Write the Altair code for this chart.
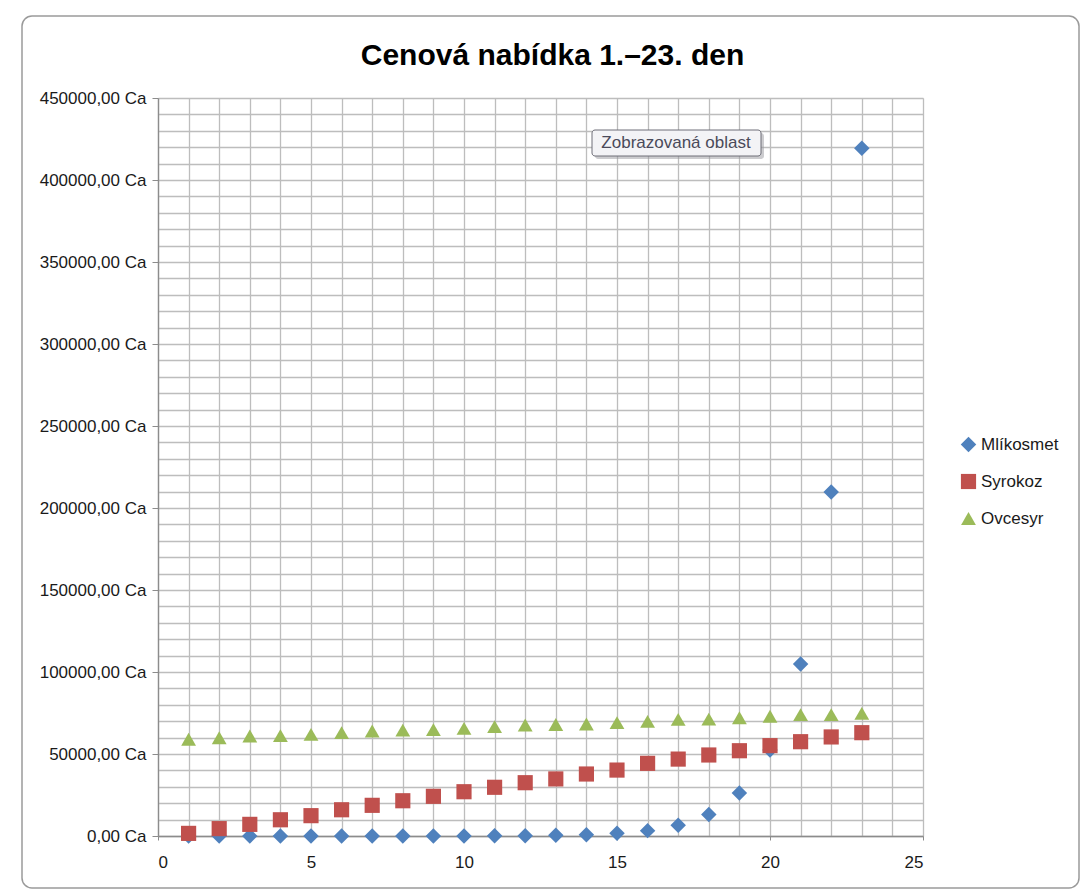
import altair as alt
import pandas as pd

days = list(range(1, 24))
series_names = ["Mlíkosmet", "Syrokoz", "Ovcesyr"]
mlikosmet = [0.1, 0.2, 0.4, 0.8, 1.6, 3.2, 6.4, 12.8, 25.6, 51.2, 102.4, 204.8,
             409.6, 819.2, 1638.4, 3276.8, 6553.6, 13107.2, 26214.4, 52428.8,
             104857.6, 209715.2, 419430.4]
syrokoz = [1600, 4500, 7100, 9900, 12400, 16000, 18700, 21500, 24200, 27000,
           29700, 32500, 34800, 37800, 40200, 44300, 46900, 49400, 52000, 55100,
           57500, 60400, 63000]
ovcesyr = [59000, 59900, 61000, 61200, 62000, 63000, 64000, 64600, 64900, 65600,
           66700, 67700, 68000, 68300, 69100, 69900, 71100, 71300, 72100, 73000,
           74000, 74000, 74800]
x_grid_values = list(range(0, 26))
y_grid_values = list(range(0, 450001, 10000))
tooltip_text = ["Zobrazovaná oblast"]

rows = []
for name, vals in zip(series_names, [mlikosmet, syrokoz, ovcesyr]):
    for d, v in zip(days, vals):
        rows.append({"den": d, "cena": v, "serie": name})
df = pd.DataFrame(rows)

FONT = "Liberation Sans"
W, H = 765, 738

points = alt.Chart(df).mark_point(filled=True, opacity=1, strokeWidth=0).encode(
    x=alt.X("den:Q", scale=alt.Scale(domain=[0, 25], nice=False, zero=False),
            axis=alt.Axis(values=x_grid_values, title=None, grid=True,
                          gridColor="#BDBDBD", gridWidth=1.3,
                          labelExpr="datum.value % 5 === 0 ? datum.label : ''",
                          labelOverlap=False, labelFont=FONT, labelFontSize=17,
                          labelColor="#1a1a1a", labelPadding=14,
                          tickSize=4, tickColor="#8c8c8c",
                          tickOpacity={"condition": {"test": "datum.value % 5 === 0", "value": 1}, "value": 0},
                          domainColor="#8c8c8c", domainWidth=1.3)),
    y=alt.Y("cena:Q", scale=alt.Scale(domain=[0, 450000], nice=False),
            axis=alt.Axis(values=y_grid_values, title=None, grid=True,
                          gridColor="#BDBDBD", gridWidth=1.3,
                          labelExpr="datum.value % 50000 === 0 ? replace(format(datum.value, '.2f'), '.', ',') + ' Ca' : ''",
                          labelOverlap=False, labelFont=FONT, labelFontSize=17,
                          labelColor="#1a1a1a", labelPadding=6,
                          tickSize=6, tickColor="#8c8c8c",
                          tickOpacity={"condition": {"test": "datum.value % 50000 === 0", "value": 1}, "value": 0},
                          domainColor="#8c8c8c", domainWidth=1.3)),
    color=alt.Color("serie:N", sort=series_names,
                    scale=alt.Scale(domain=series_names, range=["#4F81BD", "#C0504D", "#9BBB59"]),
                    legend=alt.Legend(title=None, orient="none", legendX=802, legendY=338,
                                      labelFont=FONT, labelFontSize=17, labelColor="#1a1a1a",
                                      symbolSize=160, rowPadding=19, labelOffset=4,
                                      padding=0, symbolStrokeWidth=0)),
    shape=alt.Shape("serie:N", sort=series_names,
                    scale=alt.Scale(domain=series_names, range=["diamond", "square", "triangle-up"])),
    size=alt.Size("serie:N", sort=series_names,
                  scale=alt.Scale(domain=series_names, range=[240, 220, 330]), legend=None),
    order=alt.Order("ord:Q"),
).transform_calculate(
    ord="indexof(['Mlíkosmet','Syrokoz','Ovcesyr'], datum.serie)"
)

frame = alt.Chart(pd.DataFrame({"k": [0]})).mark_rect(
    fill="transparent", stroke="#9a9a9a", strokeWidth=1.5, cornerRadius=10
).encode(x=alt.value(-136), x2=alt.value(921), y=alt.value(-82), y2=alt.value(790))

tip_shadow = alt.Chart(pd.DataFrame({"t": tooltip_text})).mark_rect(
    fill="#9a9aa0", opacity=0.5, cornerRadius=3
).encode(x=alt.value(437), x2=alt.value(606), y=alt.value(35), y2=alt.value(61))

tip_box = alt.Chart(pd.DataFrame({"t": tooltip_text})).mark_rect(
    fill="#F3F3F6", stroke="#6E6E78", strokeWidth=1, cornerRadius=3
).encode(x=alt.value(434), x2=alt.value(603), y=alt.value(32), y2=alt.value(58))

tip_text = alt.Chart(pd.DataFrame({"t": tooltip_text})).mark_text(
    font=FONT, fontSize=17, color="#4a4a5a", align="center", baseline="middle"
).encode(x=alt.value(518), y=alt.value(45), text="t:N")

chart = alt.layer(frame, points, tip_shadow, tip_box, tip_text).properties(
    width=W, height=H,
    title=alt.Title("Cenová nabídka 1.–23. den", font=FONT, fontSize=30, fontWeight="bold",
                    color="#000000", offset=-56, dx=12),
    autosize=alt.AutoSizeParams(type="none"),
    padding={"left": 150, "top": 90, "right": 158, "bottom": 55},
).configure_view(stroke=None).configure(background="white")

chart.save("out.html", embed_options={"renderer": "svg", "actions": False})
